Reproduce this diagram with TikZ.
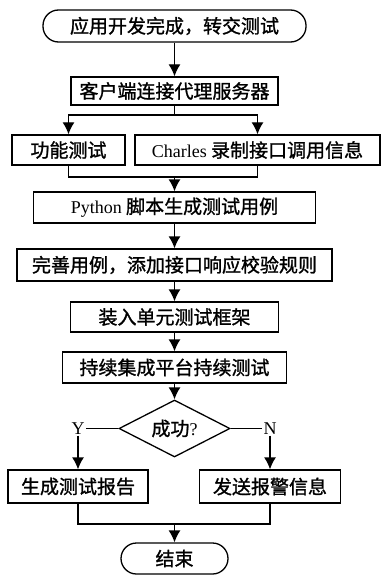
\documentclass[tikz,border=0pt]{standalone}
\usepackage{fontspec}
\setmainfont{Liberation Serif}
\newfontfamily\cjk[FakeBold=1.2]{Noto Sans CJK SC}
\usetikzlibrary{arrows.meta,shapes.geometric}
\newcommand\lat[1]{{\rmfamily\fontsize{18}{22}\selectfont #1}}
\begin{document}
\begin{tikzpicture}[x=1pt,y=-1pt,
  box/.style={draw,line width=1.3pt,inner sep=0pt,font=\fontsize{19}{22}\selectfont\cjk},
  term/.style={box,rounded corners=15.5pt},
  arr/.style={line width=1.3pt,-{Latex[length=12pt,width=12pt]}},
  ln/.style={line width=1.3pt},
  lbl/.style={inner sep=1pt,font=\fontsize{18}{22}\selectfont}]
\useasboundingbox (0,0) rectangle (384,575);
\node[term,minimum width=263pt,minimum height=32pt] (s) at (174.5,26) {应用开发完成，转交测试};
\node[box,minimum width=207pt,minimum height=28pt] (b2) at (174.5,91) {客户端连接代理服务器};
\node[box,minimum width=113pt,minimum height=30pt] (b3) at (68.5,150) {功能测试};
\node[box,minimum width=245pt,minimum height=30pt] (b4) at (257.5,150) {\lat{Charles} 录制接口调用信息};
\node[box,minimum width=282pt,minimum height=31pt] (py) at (174.5,207.5) {\lat{Python} 脚本生成测试用例};
\node[box,minimum width=315pt,minimum height=32pt] (ws) at (174.5,265) {完善用例，添加接口响应校验规则};
\node[box,minimum width=208pt,minimum height=30pt] (zr) at (174.5,317) {装入单元测试框架};
\node[box,minimum width=224pt,minimum height=31pt] (cx) at (174.5,367.5) {持续集成平台持续测试};
\node[box,diamond,aspect=1.95,minimum width=111pt,minimum height=57pt] (dm) at (174.5,428.5) {成功\lat{?}};
\node[lbl] (yl) at (78,428.5) {Y};
\node[lbl] (nl) at (270,428.5) {N};
\node[box,minimum width=140pt,minimum height=33pt] (rpt) at (78,486.5) {生成测试报告};
\node[box,minimum width=141pt,minimum height=33pt] (fail) at (270,486.5) {发送报警信息};
\node[term,minimum width=107pt,minimum height=31pt] (end) at (174.5,558.5) {结束};

\coordinate (sp) at (174.5,115);
\coordinate (mg) at (174.5,177);
\coordinate (mb) at (174.5,524);

\draw[arr] (s) -- (b2);
\draw[ln] (b2) -- (sp);
\draw[arr] (sp) -| (b3);
\draw[arr] (sp) -| (b4);
\draw[ln] (b3) |- (mg);
\draw[ln] (b4) |- (mg);
\draw[arr] (mg) -- (py);
\draw[arr] (py) -- (ws);
\draw[arr] (ws) -- (zr);
\draw[arr] (zr) -- (cx);
\draw[arr] (cx) -- (dm);
\draw[ln] (dm.west) -- (yl.east);
\draw[ln] (dm.east) -- (nl.west);
\draw[arr] (yl.south) -- (rpt);
\draw[arr] (nl.south) -- (fail);
\draw[ln] (rpt) |- (mb);
\draw[ln] (fail) |- (mb);
\draw[arr] (mb) -- (end);
\end{tikzpicture}
\end{document}
